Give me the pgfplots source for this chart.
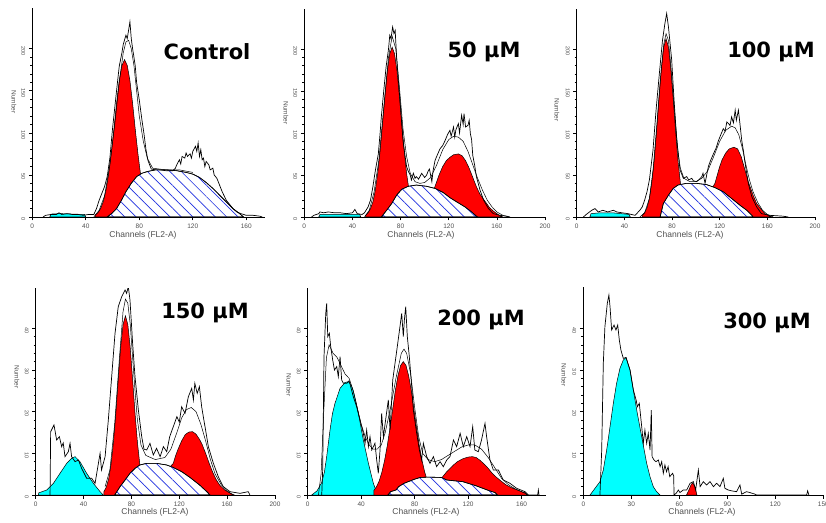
\documentclass[border=0pt]{standalone}
\usepackage{fontspec}
\setmainfont{Liberation Sans}
\newfontfamily\titlefont{DejaVu Sans}
\usepackage{pgfplots}
\pgfplotsset{compat=1.18}
\usetikzlibrary{patterns.meta}
\definecolor{tickgray}{HTML}{505050}
\definecolor{hatchblue}{HTML}{2030E0}
\definecolor{aqua}{RGB}{0,255,255}
\definecolor{pure red}{RGB}{255,0,0}
\pgfplotsset{
 flow/.style={
   scale only axis, axis on top,
   axis x line*=bottom, axis y line*=left,
   axis line style={-, line width=0.8pt, black},
   xmin=0, ymin=0,
   tick align=outside,
   major tick length=3.5pt, minor tick length=2pt,
   tick style={black, line width=0.6pt},
   minor y tick num=4,
   x tick label style={font=\fontsize{6.5}{6.5}\selectfont, text=tickgray},
   y tick label style={font=\fontsize{5.5}{5.5}\selectfont, text=tickgray, rotate=-90, anchor=north, xshift=2pt},
   /pgf/number format/assume math mode=true,
 },
 rawline/.style={black, line width=0.7pt, sharp plot, mark=none},
 fitline/.style={black, line width=0.5pt, sharp plot, mark=none},
 cyanfill/.style={fill=aqua, draw=black, line width=0.5pt, mark=none},
 redfill/.style={fill=pure red, draw=black, line width=0.5pt, mark=none},
 sfill/.style={fill=white, draw=black, line width=0.6pt, mark=none,
   postaction={pattern color=hatchblue, pattern={Lines[angle=-45,distance=8pt,line width=0.7pt]}}},
}
\newcommand\ttl[1]{{\titlefont\bfseries\fontsize{21}{21}\selectfont #1}}
\newcommand\lbl{\fontsize{8.5}{8.5}\selectfont\color{tickgray}}
\newcommand\ylbl{\fontsize{6.5}{6.5}\selectfont\color{tickgray}}
\begin{document}
\begin{tikzpicture}
\useasboundingbox (0,0) rectangle (826pt,522pt);
% ---------------- Control
\begin{axis}[flow, at={(32.3pt,305pt)}, anchor=south west, width=232.7pt, height=208.7pt,
  xmax=174, ymax=248, xtick={0,40,...,160}, ytick={0,50,...,200}]
\addplot[cyanfill] coordinates {(13,0)(14,3.5)(20,4)(30,3.5)(39,3)(40,0)} \closedcycle;
\addplot[redfill] coordinates {(47,2.3)(49,4.9)(51,9.8)(53,18)(55,31)(57,50)(59,75)(61,104)(63,135)(65,162)(67,180)(69,187)(71,180)(73,162)(75,135)(77,104)(79,75)(81,50)(83,31)(85,18)(87,9.8)(89,4.9)(91,2.3)} \closedcycle;
\addplot[sfill] coordinates {(56,0)(60,5)(63,10)(66,18)(70,30)(74,40)(78,48)(82,52)(86,54)(92,56)(100,56)(108,55)(115,53)(120,51)(125,47)(130,41)(135,34)(140,26)(145,18)(150,10)(155,4)(158,0)} \closedcycle;
\addplot[fitline] coordinates {(46,0)(50,8)(54,25)(58,62)(62,115)(65,160)(68,195)(70,208)(72,210)(74,200)(76,180)(78,150)(80,120)(83,90)(86,70)(90,58)(100,56)(110,56)(120,53)};
\addplot[rawline] coordinates {(8,0)(10,2)(14,3)(18,3)(20,5)(22,3)(26,4)(30,3)(34,3)(38,2)(42,3)(46,3)(48,10)(50,20)(52,28)(54,36)(56,48)(58,70)(60,105)(62,135)(63,150)(65,179)(67,195)(68,205)(70,216)(71,212)(72,222)(73,232)(74,212)(75,200)(76,190)(77,179)(78,160)(80,139)(82,115)(83.5,99)(85,80)(86.5,67)(89,57)(92,56)(95,56)(100,55)(105,55)(107,58)(108,62)(110,68)(111,63)(112,72)(114,70)(115,76)(116,72)(118,75)(119,70)(120,78)(122,84)(123,78)(124,88)(125,72)(126,80)(127,68)(128,70)(129,60)(130,66)(132,62)(133,56)(135,58)(136,50)(138,46)(140,38)(142,30)(145,20)(148,14)(150,10)(153,6)(156,4)(160,2)(165,2)(170,1)(172,0)};
\end{axis}
% ---------------- 50 uM
\begin{axis}[flow, at={(304.3pt,305pt)}, anchor=south west, width=240.7pt, height=207.7pt,
  xmax=200, ymax=247, xtick={0,40,...,200}, ytick={0,50,...,200}]
\addplot[cyanfill] coordinates {(12,0)(13,3)(25,3)(40,3)(46,3)(47,0)} \closedcycle;
\addplot[redfill] coordinates {(51,2)(53,5)(55,10)(57,18)(59,32)(61,52)(63,79)(65,111)(67,144)(69,174)(71,194)(73,202)(75,194)(77,174)(79,144)(81,111)(83,79)(85,52)(87,32)(89,18)(91,10)(93,5)(95,2)} \closedcycle;
\addplot[redfill] coordinates {(107,0)(108,34)(110,42)(112,50)(115,60)(118,67)(121,71)(124,74)(128,75)(131,73)(134,67)(137,58)(140,47)(143,36)(146,27)(150,19)(154,11)(158,6)(162,2)(165,0)} \closedcycle;
\addplot[sfill] coordinates {(64,0)(68.4,8)(72.6,16)(76.7,26)(81,33)(86.4,36.5)(93,38)(101.7,36.5)(108.6,34)(115.5,29)(121,23)(126.6,18)(133.5,12)(139,6)(143,1)(144,0)} \closedcycle;
\addplot[fitline] coordinates {(50,0)(54,8)(58,30)(62,68)(66,130)(70,190)(73,215)(76,200)(79,155)(82,105)(85,72)(88,52)(92,42)(96,40)(100,41)(105,47)(110,62)(115,80)(120,92)(124,96)(128,95)(132,90)(136,78)(140,62)(144,46)(148,32)(152,20)(156,12)(160,6)(165,2)(170,0)};
\addplot[rawline] coordinates {(6,0)(8,2)(12,4)(13,6)(16,5)(20,6)(25,5)(30,5)(35,4)(40,5)(42,9)(44,4)(48,3)(50,5)(53,12)(55,20)(57,36)(59,55)(61.5,75)(63,100)(64,119)(66,150)(68,179)(70,200)(71,216)(72,212)(73.4,226)(74.5,218)(75.5,222)(76.7,190)(78,165)(79.5,139)(81,110)(82,91)(83.5,75)(85,60)(86.5,54)(88,50)(89,44)(90.6,52)(92,46)(93,48)(95,45)(97.5,52)(100,47)(101.7,50)(103,55)(104,57)(106,42)(107,55)(108.6,67)(110,72)(112.7,81)(115,85)(117,91)(119,98)(121,103)(122,96)(124,107)(125,95)(126,104)(128,111)(129,100)(130.7,121)(132,110)(132.7,123)(134,107)(136,109)(137,115)(138,99)(139,92)(140,73)(141.5,62)(143,48)(146,32)(149,20)(153,10)(157,4)(162.6,2)(168,1)(171,0)};
\end{axis}
% ---------------- 100 uM
\begin{axis}[flow, at={(576.7pt,305pt)}, anchor=south west, width=238.3pt, height=207.7pt,
  xmax=200, ymax=247, xtick={0,40,...,200}, ytick={0,50,...,200}]
\addplot[cyanfill] coordinates {(11,0)(12,4)(20,5)(30,5)(44,3)(45,0)} \closedcycle;
\addplot[redfill] coordinates {(55,2)(57,5)(59,11)(61,22)(63,41)(65,67)(67,102)(69,140)(71,176)(73,202)(75,212)(77,202)(79,176)(81,140)(83,102)(85,67)(87,41)(89,22)(91,11)(93,5)(95,2)} \closedcycle;
\addplot[redfill] coordinates {(113,0)(114,35)(116,40)(118,50)(120,60)(122,68)(125,76)(128,81)(132,83)(135,81)(138,72)(140,62)(142,52)(144,42)(146,34)(148,26)(151,16)(155,9)(158,4)(162,1)(164,0)} \closedcycle;
\addplot[sfill] coordinates {(70,0)(72.7,16)(77,26)(81,34)(85,38)(92,40)(100.7,40)(109,38.5)(116,35)(123,30)(130,22)(137,14)(142.7,8)(147,2)(148,0)} \closedcycle;
\addplot[fitline] coordinates {(53,0)(57,5)(61,22)(64,55)(67,105)(70,160)(73,205)(75,218)(77,210)(79,180)(81,145)(83,110)(85,78)(87,58)(90,46)(95,42)(100,42)(105,46)(110,55)(115,72)(120,90)(125,103)(130,108)(133,106)(136,98)(139,82)(142,62)(145,44)(148,30)(152,17)(156,8)(160,3)(165,0)};
\addplot[rawline] coordinates {(5.6,0)(8,3)(12.6,8)(15.4,10)(18,6)(22,8)(26,6)(30.8,8)(33.6,6)(38,5)(43,4)(46,3)(49,2)(53,8)(55,12)(57,20)(59,30)(61,44)(64,79)(66.6,127)(69.4,171)(72,210)(74,230)(75.5,242)(77,226)(79.7,187)(81.7,139)(84,91)(86.7,56)(89.5,46)(92.3,48)(94,44)(96.5,46)(98,43)(100.7,42)(103,45)(105,48)(106,52)(107.7,40)(110.5,60)(112,66)(114.7,75)(117,82)(119,91)(121,98)(123,105)(124.5,102)(126,113)(128.7,109)(130,119)(131.5,112)(133,127)(134,115)(135.7,127)(137,111)(138.5,91)(140,78)(141,67)(144,40)(147,24)(151,12)(155,4)(162,2)(173,1)(177.6,0)};
\end{axis}
% ---------------- 150 uM
\begin{axis}[flow, at={(35.7pt,27pt)}, anchor=south west, width=239.3pt, height=206.7pt,
  xmax=200, ymax=49.6, xtick={0,40,...,200}, ytick={0,10,...,40}]
\addplot[cyanfill] coordinates {(2.2,0)(2.5,0.5)(9.2,1.2)(14.8,2.8)(20.3,5.2)(25.9,7.6)(30,8.8)(32.9,9.2)(37,8)(42.6,5.2)(48.2,2.8)(53.8,0.8)(56.5,0)} \closedcycle;
\addplot[redfill] coordinates {(57,0.8)(59,1.9)(61,3.9)(63,7.4)(65,12.7)(67,19.7)(69,27.7)(71,35.4)(73,40.9)(75,43)(77,40.9)(79,35.4)(81,27.7)(83,19.7)(85,12.7)(87,7.4)(89,3.9)(91,1.9)(93,0.8)} \closedcycle;
\addplot[redfill] coordinates {(112,0)(113,7)(115,7.6)(117,9.5)(119,11)(122,13)(125,14.5)(128,15.1)(131,15.2)(134,14.6)(137,13.3)(139,12.2)(142,10)(145,7.6)(148,5.4)(151,3.6)(154,2.3)(158,1.2)(162,0.5)(166,0)} \closedcycle;
\addplot[sfill] coordinates {(66,0)(70.5,2)(74.7,3.6)(78.8,5.2)(83,6.4)(87,7.2)(92.8,7.6)(101,7.6)(109.5,7.2)(115,6.6)(122,5.6)(129,4.2)(137,2.4)(143,0.8)(145.7,0)} \closedcycle;
\addplot[fitline] coordinates {(58,2)(62,6)(66,17)(70,33)(73,44)(75,47)(77,46)(79,41)(81,33)(83,25)(85,18)(88,12)(92,9.5)(100,8.5)(108,9)(113,11)(118,15)(122,18.5)(126,20.5)(130,21)(134,20)(138,17)(142,13)(146,8.5)(150,5)(155,2.5)(160,1)(165,0)};
\addplot[rawline] coordinates {(12,0)(12.5,15.2)(15.3,16.8)(17.5,13.2)(19.8,14)(21.7,11.6)(23,12.5)(24.5,9.2)(27.3,10.4)(28.7,12.4)(30,9.2)(32.9,8)(35.7,8.4)(38.4,6.4)(42.6,4)(46.8,4)(49.6,2.8)(51,5.2)(53.8,10)(55,6)(58,9.2)(60.7,18)(63.5,28.4)(66.3,38.8)(69,45.2)(71.9,47.6)(74.7,49.2)(76,48.4)(77.4,50)(78.8,46.8)(81,36.4)(83,28.4)(85.8,20.4)(88.6,14)(90.5,11)(92.8,10.8)(95.5,12.4)(98.3,9.6)(101,11.2)(104,9.2)(106.7,11.6)(109.5,10.4)(112,14)(115,16.4)(118,18.8)(120,17.5)(122,21.2)(124.8,19.6)(127.6,23.6)(130.4,25.6)(131.8,22.8)(133,26.8)(135,24.4)(136.8,26)(138.7,21.2)(141.5,16.4)(144.3,11.6)(148.5,7.6)(152.6,4.4)(156.8,2)(162.4,0.8)(170.8,0.4)(177.7,0.8)(179,0)};
\end{axis}
% ---------------- 200 uM
\begin{axis}[flow, at={(307.7pt,27pt)}, anchor=south west, width=238pt, height=206.7pt,
  xmax=178, ymax=49.6, xtick={0,40,...,160}, ytick={0,10,...,40}]
\addplot[cyanfill] coordinates {(3,0)(7,1)(10.5,3)(12.5,5.5)(14.2,9.2)(16.7,15.6)(18.5,19.5)(20.4,22)(24.2,25.6)(27.9,27)(30.4,27.2)(32.5,26.4)(34.1,25)(36,22.5)(37.9,19.6)(41.6,13.2)(45.4,7.6)(49.1,2.8)(51.6,0.6)(52.8,0)} \closedcycle;
\addplot[redfill] coordinates {(49.5,1.1)(51.5,2)(53.5,3.4)(55.5,5.5)(57.5,8.3)(59.5,11.8)(61.5,16)(63.5,20.5)(65.5,25)(67.5,28.6)(69.5,31.1)(71.5,32)(73.5,31.1)(75.5,28.6)(77.5,25)(79.5,20.5)(81.5,16)(83.5,11.8)(85.5,8.3)(87.5,5.5)(89.5,3.4)(91.5,2)(93.5,1.1)} \closedcycle;
\addplot[redfill] coordinates {(99,0)(100,4)(102,4.8)(104,5.6)(106,6.2)(109,7.2)(112,8)(116,8.7)(120,9.1)(123,9.2)(126,9)(129,8.3)(132,7.4)(135,6.4)(138,5.2)(141,4.3)(144,3.5)(148,2.5)(152,1.8)(156,1.3)(160,0.8)(163,0.5)(164,0)} \closedcycle;
\addplot[sfill] coordinates {(60,0)(62,0.8)(66,1.2)(68,2)(72,2.8)(76,3.3)(80,3.8)(84,4.2)(90,4.3)(100,4.2)(104,3.6)(110,3.4)(116,3.2)(120,2.8)(126,2.2)(131,1.6)(136,1.0)(140,0.6)(142,0)} \closedcycle;
\addplot[fitline] coordinates {(8,0)(10,5)(12,20)(14,33)(16,36)(19,34)(22,33)(25,31)(28,29)(31,28)(34,25)(37,21)(40,17)(43,14)(46,12)(49,11)(52,11)(55,12)(58,15)(62,21)(66,28)(70,34)(72,35)(74,34)(77,29)(80,21)(83,14)(86,10)(90,8.5)(95,8)(100,8.5)(105,9.5)(110,10.5)(115,11.5)(120,12)(125,12)(130,11)(135,9)(140,6.5)(145,4)(150,2.5)(155,1.5)(160,0.8)(165,0)};
\addplot[rawline] coordinates {(10.5,0)(11.2,6)(12.2,33.2)(13.5,43.6)(14.2,46)(15,38)(16.2,38.8)(17.2,35.6)(18.7,32.4)(20,30)(21.7,30.8)(22.9,28.4)(24.2,33.2)(25.4,27.6)(26.7,26.8)(29.2,26.8)(31,27.4)(34.1,23.6)(36.6,21.2)(39.1,18)(41.6,14.8)(42.9,12.4)(44.1,15.6)(45.4,11.6)(46.6,14)(47.9,10.8)(50.3,12.4)(51.6,8.4)(52.8,5.2)(54.1,10.8)(55.3,19.6)(56.6,14)(58.6,18.8)(60.3,22.8)(61.6,15.6)(63.6,27.6)(65.3,31.6)(67,35.6)(69,40.4)(70.3,43.6)(71.5,38)(72.3,42)(73.3,45.2)(74.5,38)(76,33.2)(77.8,26)(79,20.4)(81.5,14.8)(83.5,10.8)(85.2,8.4)(86.5,12.4)(89,9.2)(91.5,7.6)(94,9.2)(96.4,6.8)(99,8)(101.4,6.8)(104,8.4)(106.4,9.2)(109,13.2)(111.4,11.6)(114,14.8)(116.4,11.6)(118.9,14)(121.4,11.6)(123.4,16.4)(125,10.8)(127.6,10.4)(130,13.2)(132.6,17.2)(133.8,14)(136.3,8.4)(138.8,6)(142.6,6)(146.3,3.6)(151.3,2.8)(156.3,1.6)(162.5,0.8)(165,0)(172,0)(172.5,1.2)(173,0)};
\end{axis}
% ---------------- 300 uM
\begin{axis}[flow, at={(583.3pt,27pt)}, anchor=south west, width=240pt, height=208.3pt,
  xmax=150, ymax=50, xtick={0,30,...,150}, ytick={0,10,...,40}]
\addplot[cyanfill] coordinates {(4.2,0)(5,0.4)(7.3,1.6)(10.4,3.2)(12.5,6)(14.6,10.8)(16.7,16.4)(18.75,22)(20.8,26.8)(22.9,30.4)(25,32.4)(26.7,33)(29.2,30)(31.25,25.2)(33.75,19.6)(36.5,14)(39.6,7.6)(41.7,4.4)(43.75,2)(45.8,0.8)(48,0)} \closedcycle;
\addplot[redfill] coordinates {(64.5,0)(66,1.2)(67.5,2.6)(68.5,2.9)(70,1.8)(71,0)} \closedcycle;
\addplot[rawline] coordinates {(10.4,0)(11.5,10.8)(12.5,31.6)(13.5,40.4)(15,46)(16,48)(16.7,45.2)(17.7,39.6)(19.2,40.8)(20.4,39.6)(21.5,40.8)(22.5,37.2)(23.5,34.8)(25,32.8)(26.7,33)(29.2,30)(31.3,25.2)(33,22.8)(33.8,21.2)(35,22)(36.5,16.4)(37.5,12.4)(38.5,15.6)(39.6,12.4)(40.6,14.8)(41.7,10.8)(42.5,20.4)(43,9.2)(44.2,8.4)(45.4,8)(46.9,8.4)(48,6.8)(49,8)(50,5.2)(51,7.2)(52,5.6)(53,6.8)(54,4.4)(55.8,5.2)(56.5,4.6)(56.7,0)(58,0.4)(59.4,1.2)(60.4,0.6)(62.5,1.2)(64.6,1.2)(66.7,2.8)(68.8,3.2)(70.2,1.2)(71.9,6)(73,2)(75,3.2)(77,2.4)(79.2,3.2)(81.3,2)(83.3,2.8)(85.4,2)(87.5,4)(88.5,1.6)(90.6,1.2)(92.7,1)(95.8,0.8)(97.9,2.4)(99,0.2)(102,0.8)(104,0.6)(107.3,0.2)(108.3,0)(139.6,0)(140.2,1)(141,0)};
\end{axis}
% ---------------- titles and labels
\node at (207pt,470pt) {\ttl{Control}};
\node at (484pt,470pt) {\ttl{50 µM}};
\node at (771pt,470pt) {\ttl{100 µM}};
\node at (205pt,209pt) {\ttl{150 µM}};
\node at (481pt,202pt) {\ttl{200 µM}};
\node at (767pt,199pt) {\ttl{300 µM}};
\node at (143pt,287pt) {\lbl Channels (FL2-A)};
\node at (421pt,287pt) {\lbl Channels (FL2-A)};
\node at (690pt,287pt) {\lbl Channels (FL2-A)};
\node at (155pt,10pt) {\lbl Channels (FL2-A)};
\node at (426pt,10pt) {\lbl Channels (FL2-A)};
\node at (702pt,10pt) {\lbl Channels (FL2-A)};
\node[rotate=-90] at (14pt,420pt) {\ylbl Number};
\node[rotate=-90] at (286pt,409pt) {\ylbl Number};
\node[rotate=-90] at (557pt,412pt) {\ylbl Number};
\node[rotate=-90] at (17pt,145pt) {\ylbl Number};
\node[rotate=-90] at (289pt,137pt) {\ylbl Number};
\node[rotate=-90] at (564pt,147pt) {\ylbl Number};
\end{tikzpicture}
\end{document}
